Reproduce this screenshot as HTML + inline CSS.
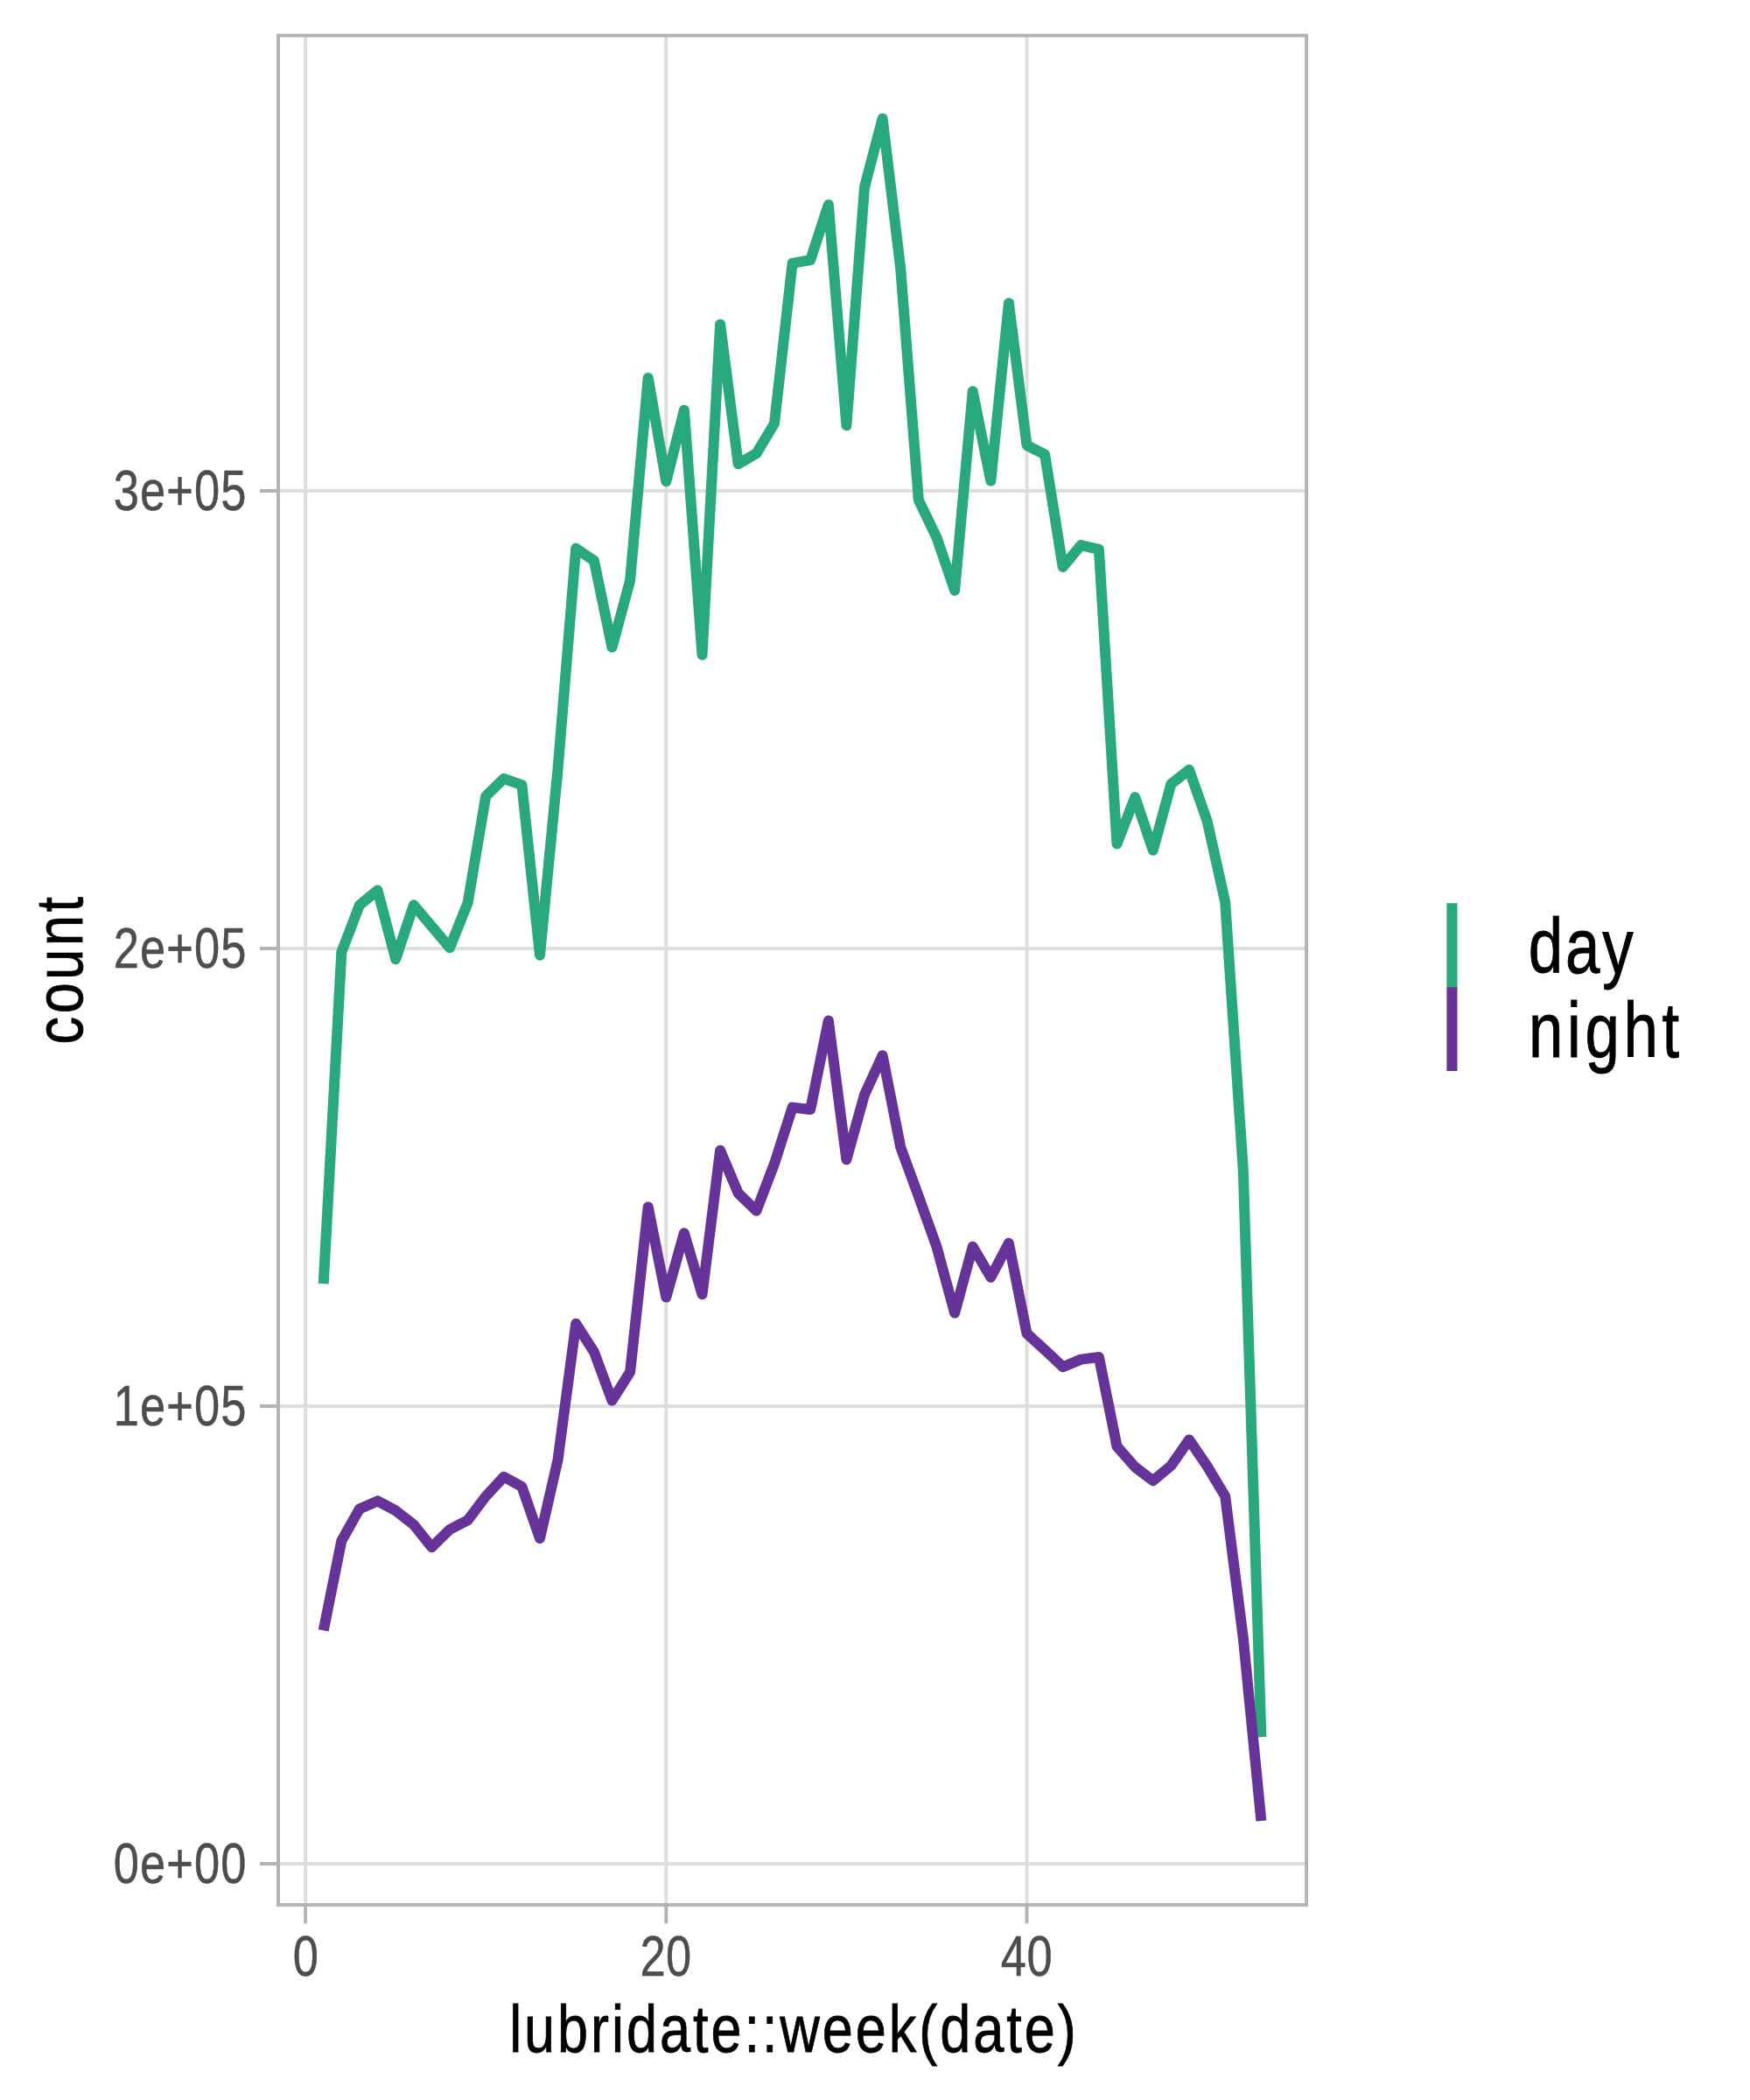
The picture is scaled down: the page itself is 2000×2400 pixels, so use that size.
<!DOCTYPE html>
<html lang="en"><head><meta charset="utf-8"><title>count by lubridate::week(date)</title>
<style>html,body{margin:0;padding:0;background:#fff}body{width:2000px;height:2400px;overflow:hidden}svg{display:block}text{font-family:"Liberation Sans",sans-serif;white-space:pre}</style></head><body>
<svg width="2000" height="2400" viewBox="0 0 2000 2400">
<rect width="2000" height="2400" fill="#fff"/>
<path d="M318.0 2130H1493.1M318.0 1607H1493.1M318.0 1084H1493.1M318.0 561H1493.1M349.1 40.6V2177.0M761.3 40.6V2177.0M1173.5 40.6V2177.0" stroke="#dedede" stroke-width="3.9" fill="none"/>
<polyline points="369.7,1467.2 390.3,1088.3 410.9,1034.3 431.5,1017.5 452.2,1096.2 472.8,1034.3 493.4,1058.7 514.0,1083.2 534.6,1031.7 555.2,910.0 575.8,889.8 596.4,897.1 617.0,1091.7 637.6,878.3 658.2,626.8 678.9,640.7 699.5,739.7 720.1,663.5 740.7,431.9 761.3,550.2 781.9,468.7 802.5,748.5 823.1,370.7 843.7,530.3 864.4,518.3 885.0,484.0 905.6,300.9 926.2,297.2 946.8,234.0 967.4,486.2 988.0,214.0 1008.6,135.5 1029.2,306.6 1049.8,571.4 1070.5,614.3 1091.1,674.8 1111.7,447.3 1132.3,549.6 1152.9,346.5 1173.5,508.8 1194.1,519.4 1214.7,648.0 1235.3,623.1 1255.9,627.8 1276.5,964.3 1297.2,911.1 1317.8,971.7 1338.4,896.0 1359.0,879.8 1379.6,938.3 1400.2,1031.0 1420.8,1337.3 1441.4,1985.3" fill="none" stroke="#29a87c" stroke-width="12.0" stroke-linejoin="round" stroke-linecap="butt"/>
<polyline points="369.7,1863.4 390.3,1761.0 410.9,1724.4 431.5,1715.4 452.2,1726.4 472.8,1742.4 493.4,1768.2 514.0,1748.0 534.6,1737.4 555.2,1710.0 575.8,1687.8 596.4,1699.0 617.0,1758.2 637.6,1668.0 658.2,1512.8 678.9,1545.0 699.5,1600.6 720.1,1568.0 740.7,1379.4 761.3,1482.6 781.9,1409.2 802.5,1479.2 823.1,1314.8 843.7,1363.6 864.4,1383.8 885.0,1330.0 905.6,1265.6 926.2,1268.0 946.8,1166.4 967.4,1325.2 988.0,1251.0 1008.6,1206.2 1029.2,1311.0 1049.8,1367.2 1070.5,1425.0 1091.1,1500.6 1111.7,1424.8 1132.3,1459.8 1152.9,1420.8 1173.5,1524.0 1194.1,1542.8 1214.7,1562.2 1235.3,1553.6 1255.9,1551.0 1276.5,1653.0 1297.2,1676.6 1317.8,1692.2 1338.4,1675.0 1359.0,1645.4 1379.6,1675.6 1400.2,1710.0 1420.8,1872.0 1441.4,2081.0" fill="none" stroke="#663399" stroke-width="12.0" stroke-linejoin="round" stroke-linecap="butt"/>
<rect x="318.0" y="40.6" width="1175.1" height="2136.4" fill="none" stroke="#b3b3b3" stroke-width="3.9"/>
<path d="M297 2130H316.05M297 1607H316.05M297 1084H316.05M297 561H316.05M349.1 2178.95V2198.2M761.3 2178.95V2198.2M1173.5 2178.95V2198.2" stroke="#b3b3b3" stroke-width="3.9" fill="none"/>
<text transform="translate(129.73 583.00) scale(0.82 1)" font-size="64.0" letter-spacing="1.320" fill="#4d4d4d" stroke="#4d4d4d" stroke-width="0.5">3e+05</text>
<text transform="translate(129.73 1106.00) scale(0.82 1)" font-size="64.0" letter-spacing="1.320" fill="#4d4d4d" stroke="#4d4d4d" stroke-width="0.5">2e+05</text>
<text transform="translate(129.73 1629.00) scale(0.82 1)" font-size="64.0" letter-spacing="1.320" fill="#4d4d4d" stroke="#4d4d4d" stroke-width="0.5">1e+05</text>
<text transform="translate(129.73 2152.00) scale(0.82 1)" font-size="64.0" letter-spacing="1.320" fill="#4d4d4d" stroke="#4d4d4d" stroke-width="0.5">0e+00</text>
<text transform="translate(334.66 2258.00) scale(0.82 1)" font-size="64.0" letter-spacing="0.000" fill="#4d4d4d" stroke="#4d4d4d" stroke-width="0.5">0</text>
<text transform="translate(731.59 2258.00) scale(0.82 1)" font-size="64.0" letter-spacing="0.348" fill="#4d4d4d" stroke="#4d4d4d" stroke-width="0.5">20</text>
<text transform="translate(1143.79 2258.00) scale(0.82 1)" font-size="64.0" letter-spacing="0.636" fill="#4d4d4d" stroke="#4d4d4d" stroke-width="0.5">40</text>
<text transform="translate(582.13 2344.80) scale(0.83 1)" font-size="76" letter-spacing="3.532" fill="#000" stroke="#000" stroke-width="0.8">lubridate::week(date)</text>
<text transform="translate(93.60 1193.43) rotate(-90) scale(0.83 1)" font-size="76" letter-spacing="4.297" fill="#000" stroke="#000" stroke-width="0.8">count</text>
<rect x="1653.4" y="1032.2" width="12.1" height="95.9" fill="#29a87c"/>
<rect x="1653.4" y="1128.1" width="12.1" height="95.9" fill="#663399"/>
<text transform="translate(1746.82 1112.00) scale(0.8 1)" font-size="88.5" letter-spacing="3.529" fill="#000" stroke="#000" stroke-width="0.9">day</text>
<text transform="translate(1746.95 1208.00) scale(0.8 1)" font-size="88.5" letter-spacing="5.848" fill="#000" stroke="#000" stroke-width="0.9">night</text>
</svg></body></html>
